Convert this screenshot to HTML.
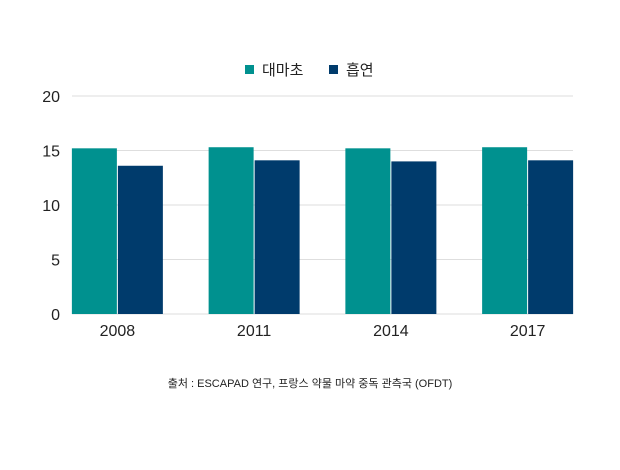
<!DOCTYPE html>
<html><head><meta charset="utf-8"><style>
body{margin:0;background:#fff;width:620px;height:465px;overflow:hidden;font-family:"Liberation Sans","Noto Sans CJK KR",sans-serif}
</style></head><body>
<svg width="620" height="465" id="c" style="font-family:'Liberation Sans','Noto Sans CJK KR',sans-serif">
<g>
<rect x="245" y="65" width="9" height="9" fill="#00918f"/>
<text x="262" y="75" font-size="15" fill="#222">대마초</text>
<rect x="329" y="65" width="9" height="9" fill="#003b6c"/>
<text x="346" y="75" font-size="15" fill="#222">흡연</text>
</g>
<text x="310" y="387" font-size="11" fill="#222" text-anchor="middle">출처 : ESCAPAD 연구, 프랑스 약물 마약 중독 관측국 (OFDT)</text>
</svg>
<script>
const categories=["2008","2011","2014","2017"];
const cannabis=[15.2,15.3,15.2,15.3];
const smoking=[13.6,14.1,14.0,14.1];
const ticks=[0,5,10,15,20];
const svg=document.getElementById('c');
const NS='http://www.w3.org/2000/svg';
const y0=314,y1=96,xl=72,xr=573;
const yS=v=>y0-(v/20)*(y0-y1);
const band=(xr-xl+46)/categories.length;
const xC=i=>xl-23+band*(i+0.5);
function mk(t,a){const e=document.createElementNS(NS,t);for(const k in a)e.setAttribute(k,a[k]);svg.appendChild(e);return e;}
ticks.forEach(t=>{
const l=mk('line',{x1:xl,x2:xr,y1:yS(t),y2:yS(t),stroke:'#dedede','stroke-width':1});


const tx=mk('text',{x:60,y:yS(t)+6,'font-size':16,fill:'#222','text-anchor':'end'});
tx.textContent=t;


});
const bw=45;
categories.forEach((c,i)=>{
const cx=xC(i);
const a=mk('rect',{x:cx-bw-0.5,y:yS(cannabis[i]),width:bw,height:y0-yS(cannabis[i]),fill:'#00918f'});


const b=mk('rect',{x:cx+0.5,y:yS(smoking[i]),width:bw,height:y0-yS(smoking[i]),fill:'#003b6c'});


const t=mk('text',{x:cx,y:336,'font-size':16,fill:'#222','text-anchor':'middle'});
t.textContent=c;


});
</script>
</body></html>
